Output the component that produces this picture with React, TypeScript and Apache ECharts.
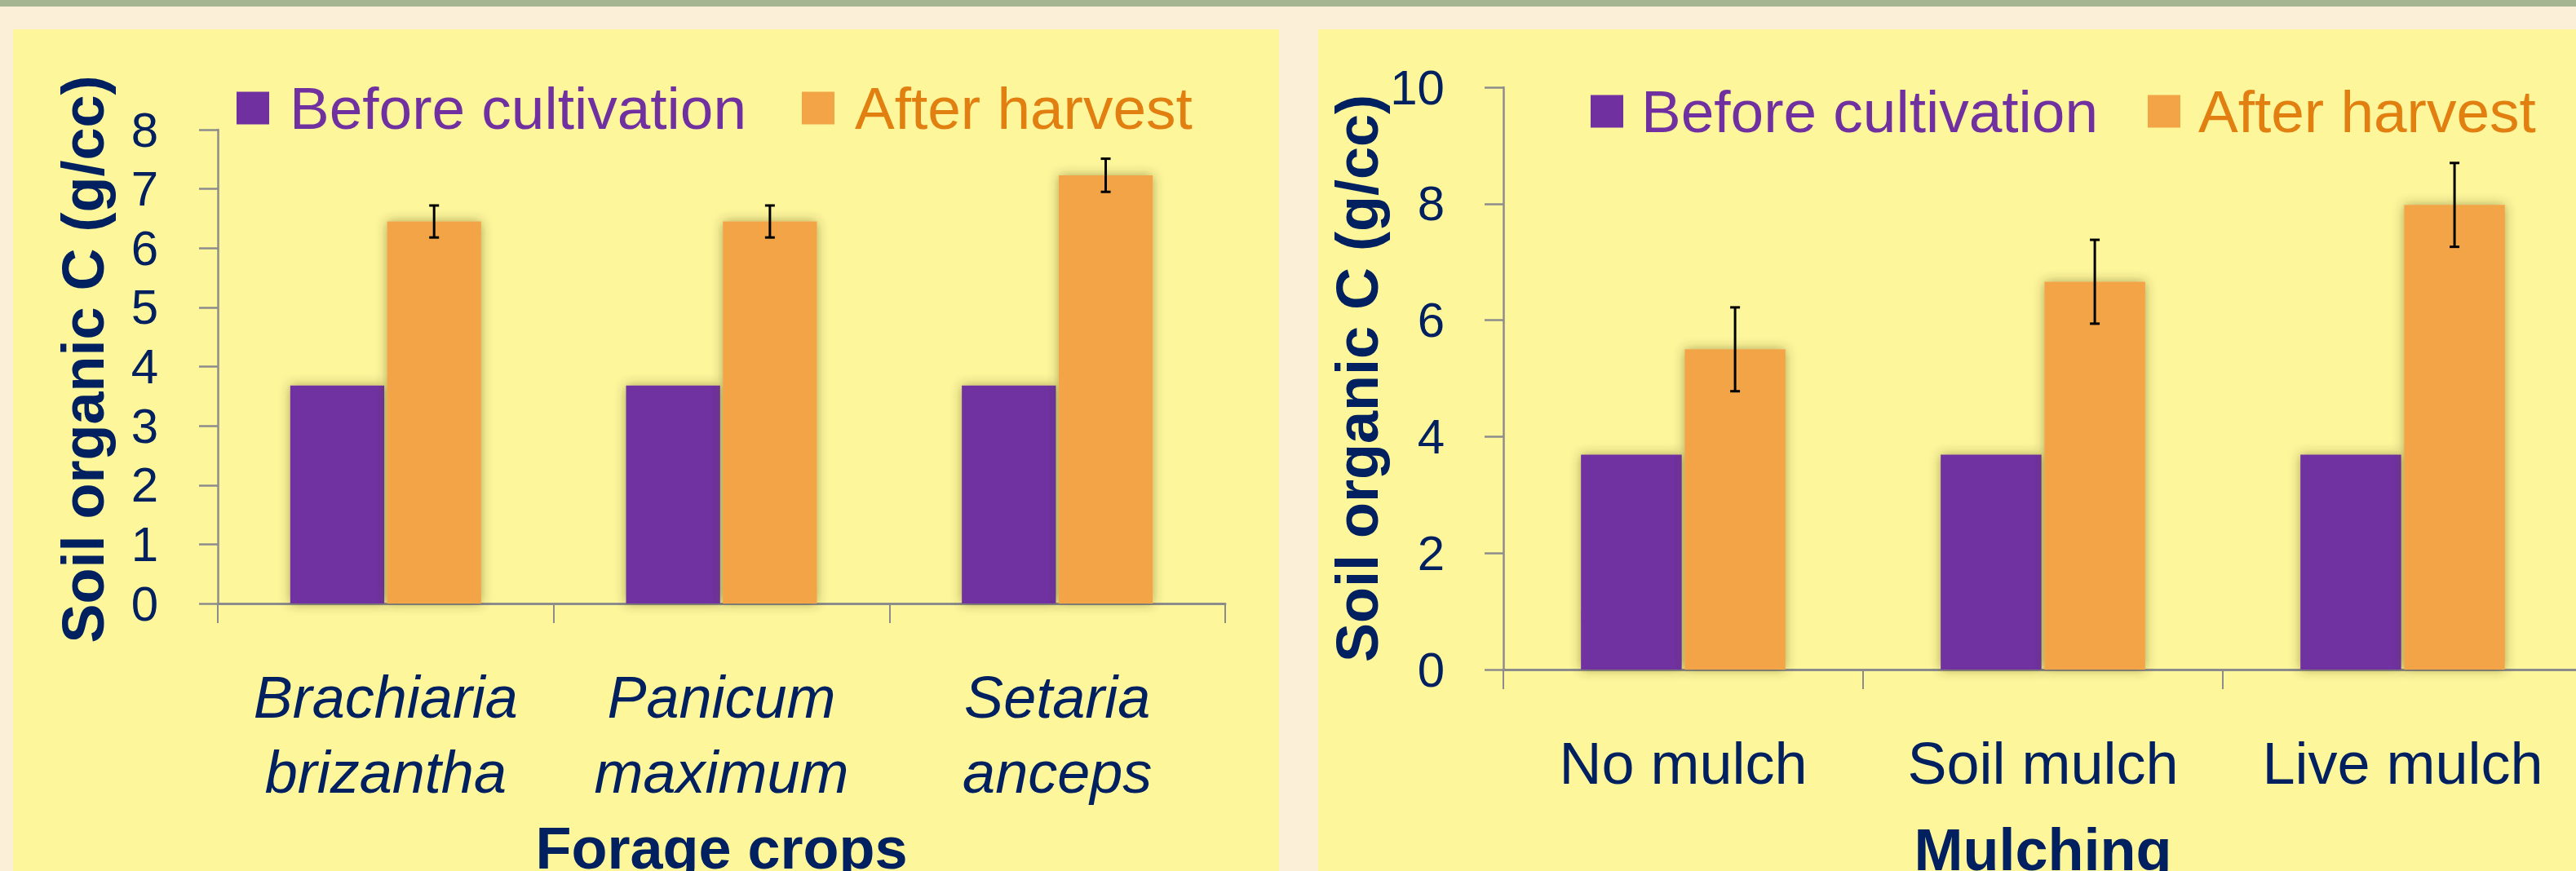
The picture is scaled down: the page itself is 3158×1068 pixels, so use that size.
import React, { useEffect, useRef } from 'react';
import * as echarts from 'echarts';

// ---- data ----
const seriesNames = ['Before cultivation', 'After harvest'];

const leftCategories = ['Brachiaria\nbrizantha', 'Panicum\nmaximum', 'Setaria\nanceps'];
const leftBefore = [3.68, 3.68, 3.68];
const leftAfter = [6.45, 6.45, 7.23];
const leftAfterErr = [0.27, 0.27, 0.28];
const leftAxisMin = 0;
const leftAxisMax = 8;
const leftAxisInterval = 1;
const leftXTitle = 'Forage crops';

const rightCategories = ['No mulch', 'Soil mulch', 'Live mulch'];
const rightBefore = [3.69, 3.69, 3.69];
const rightAfter = [5.5, 6.66, 7.98];
const rightAfterErr = [0.72, 0.72, 0.72];
const rightAxisMin = 0;
const rightAxisMax = 10;
const rightAxisInterval = 2;
const rightXTitle = 'Mulching';

const yTitle = 'Soil organic C (g/cc)';

// ---- styles ----
const PURPLE = '#7030a0';
const ORANGE = '#f2a446';
const ORANGE_TEXT = '#e17f11';
const NAVY = '#002060';
const AXIS = '#8c8c8c';
const FONT = '"Liberation Sans", Arial, sans-serif';
const BAR_W = 0.28;
const BAR_GAP = 0.03;

function errorData(means: number[], errs: number[]) {
  return means.map((m, i) => [i, m - errs[i], m + errs[i]]);
}

function errorRenderer(params: any, api: any) {
  const idx = api.value(0);
  const lowPt = api.coord([idx, api.value(1)]);
  const highPt = api.coord([idx, api.value(2)]);
  const band = api.size([1, 0])[0];
  const w = band * BAR_W;
  const x = lowPt[0] + (w + w * BAR_GAP) / 2;
  const half = 6;
  const style = { stroke: '#000', lineWidth: 3 };
  return {
    type: 'group',
    children: [
      { type: 'line', shape: { x1: x, y1: lowPt[1], x2: x, y2: highPt[1] }, style },
      { type: 'line', shape: { x1: x - half, y1: highPt[1], x2: x + half, y2: highPt[1] }, style },
      { type: 'line', shape: { x1: x - half, y1: lowPt[1], x2: x + half, y2: lowPt[1] }, style },
    ],
  };
}

function legendFor(left: number, top: number, gapText: number, itemGap: number) {
  return {
    left,
    top,
    orient: 'horizontal',
    icon: 'rect',
    itemWidth: 40,
    itemHeight: 40,
    itemGap,
    selectedMode: false,
    textStyle: { fontSize: 73, lineHeight: 73, fontFamily: FONT, padding: [0, 0, 0, gapText] },
    data: [
      { name: seriesNames[0], textStyle: { color: PURPLE } },
      { name: seriesNames[1], textStyle: { color: ORANGE_TEXT } },
    ],
  };
}

const barShadow = { shadowBlur: 14, shadowColor: 'rgba(70,60,0,0.45)' };

export default function App() {
  const ref = useRef<HTMLDivElement>(null);
  useEffect(() => {
    if (!ref.current) return;
    const chart = echarts.init(ref.current, null, { renderer: 'svg' });
    const xAxisCommon = (idx: number, cats: string[], italic: boolean, name: string, nameGap: number) => ({
      type: 'category',
      gridIndex: idx,
      data: cats,
      name,
      nameLocation: 'middle',
      nameGap,
      nameTextStyle: { fontSize: 72, lineHeight: 72, fontWeight: 'bold', color: NAVY, fontFamily: FONT },
      axisLine: { show: true, lineStyle: { color: AXIS, width: 3 } },
      axisTick: { show: true, length: 24, lineStyle: { color: AXIS, width: 2 } },
      axisLabel: {
        interval: 0,
        margin: 69,
        fontSize: 72,
        lineHeight: 92,
        fontStyle: italic ? 'italic' : 'normal',
        color: NAVY,
        fontFamily: FONT,
      },
      splitLine: { show: false },
    });
    const yAxisCommon = (idx: number, min: number, max: number, interval: number, nameGap: number, pad: number[], labelPad: number[], margin: number) => ({
      type: 'value',
      gridIndex: idx,
      min,
      max,
      interval,
      name: yTitle,
      nameLocation: 'middle',
      nameRotate: 90,
      nameGap,
      nameTextStyle: { fontSize: 72, lineHeight: 72, fontWeight: 'bold', color: NAVY, fontFamily: FONT, padding: pad },
      axisLine: { show: true, lineStyle: { color: AXIS, width: 2.5 } },
      axisTick: { show: true, length: 23, lineStyle: { color: AXIS, width: 2.5 } },
      axisLabel: { fontSize: 60, color: NAVY, fontFamily: FONT, margin, padding: labelPad },
      splitLine: { show: false },
    });
    const option = {
      animation: false,
      backgroundColor: '#fcefd8',
      graphic: [
        { type: 'rect', z: -10, silent: true, shape: { x: 0, y: 0, width: 3158, height: 8 }, style: { fill: '#a5b592' } },
        { type: 'rect', z: -10, silent: true, shape: { x: 16, y: 36, width: 1552, height: 1032 }, style: { fill: '#fdf69b' } },
        { type: 'rect', z: -10, silent: true, shape: { x: 1616, y: 36, width: 1542, height: 1032 }, style: { fill: '#fdf69b' } },
      ],
      legend: [legendFor(285, 91, 20, 68), legendFor(1945, 95, 17, 61)],
      grid: [
        { left: 267, top: 159, width: 1235, height: 581, containLabel: false, outerBoundsMode: 'none' },
        { left: 1843, top: 107, width: 1323, height: 714, containLabel: false, outerBoundsMode: 'none' },
      ],
      xAxis: [
        xAxisCommon(0, leftCategories, true, leftXTitle, 264),
        xAxisCommon(1, rightCategories, false, rightXTitle, 185),
      ],
      yAxis: [
        yAxisCommon(0, leftAxisMin, leftAxisMax, leftAxisInterval, 129, [0, 0, 0, 18], [0, 0, 10, 0], 73),
        yAxisCommon(1, rightAxisMin, rightAxisMax, rightAxisInterval, 139, [0, 0, 0, 0], [0, 0, 9, 0], 72),
      ],
      series: [
        {
          type: 'bar', name: seriesNames[0], xAxisIndex: 0, yAxisIndex: 0, data: leftBefore,
          barWidth: BAR_W * 100 + '%', barGap: BAR_GAP * 100 + '%',
          itemStyle: { color: PURPLE, ...barShadow },
        },
        {
          type: 'bar', name: seriesNames[1], xAxisIndex: 0, yAxisIndex: 0, data: leftAfter,
          barWidth: BAR_W * 100 + '%', barGap: BAR_GAP * 100 + '%',
          itemStyle: { color: ORANGE, ...barShadow },
        },
        {
          type: 'custom', name: 'err-left', xAxisIndex: 0, yAxisIndex: 0, z: 5,
          data: errorData(leftAfter, leftAfterErr), renderItem: errorRenderer,
          encode: { x: 0, y: [1, 2] },
        },
        {
          type: 'bar', name: seriesNames[0], xAxisIndex: 1, yAxisIndex: 1, data: rightBefore,
          barWidth: BAR_W * 100 + '%', barGap: BAR_GAP * 100 + '%',
          itemStyle: { color: PURPLE, ...barShadow },
        },
        {
          type: 'bar', name: seriesNames[1], xAxisIndex: 1, yAxisIndex: 1, data: rightAfter,
          barWidth: BAR_W * 100 + '%', barGap: BAR_GAP * 100 + '%',
          itemStyle: { color: ORANGE, ...barShadow },
        },
        {
          type: 'custom', name: 'err-right', xAxisIndex: 1, yAxisIndex: 1, z: 5,
          data: errorData(rightAfter, rightAfterErr), renderItem: errorRenderer,
          encode: { x: 0, y: [1, 2] },
        },
      ],
    };
    chart.setOption(option as any);
    return () => chart.dispose();
  }, []);
  return (
    <div
      ref={ref}
      style={{ position: 'fixed', left: 0, top: 0, width: 3158, height: 1068, overflow: 'hidden' }}
    />
  );
}
